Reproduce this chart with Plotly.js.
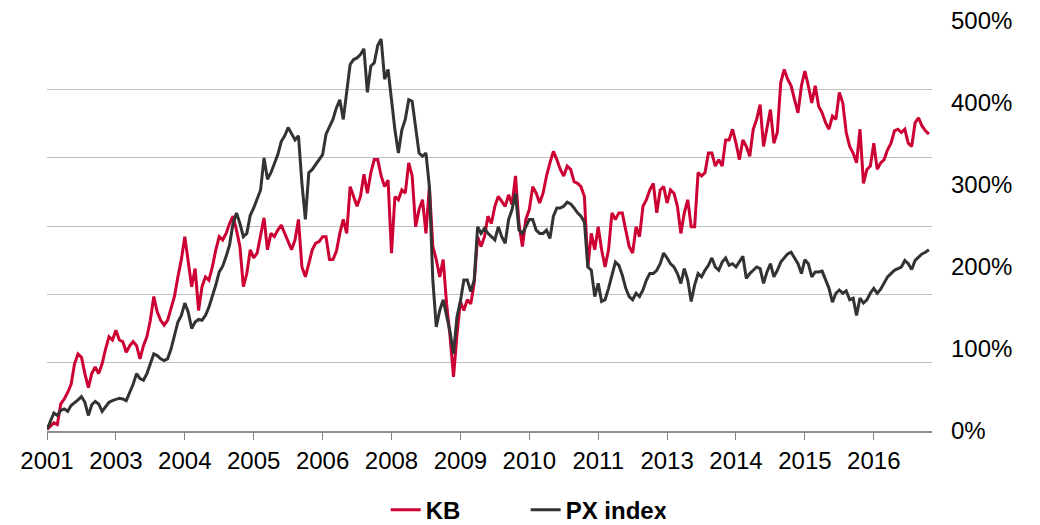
<!DOCTYPE html>
<html><head><meta charset="utf-8">
<script src="https://cdn.plot.ly/plotly-3.0.1.min.js"></script>
<style>html,body{margin:0;padding:0;background:#fff}#chart{width:1040px;height:525px}</style>
</head><body><div id="chart"></div>
<script>
// x tick labels (one label every 20 samples)
const tickLabels = ['2001','2003','2004','2005','2006','2008','2009','2010','2011','2013','2014','2015','2016'];
const samplesPerTick = 20;
const yLabelVals = [0, 100, 200, 300, 400, 500];

// KB cumulative performance, %
const kb = [2,6,10,8,33,39,47,57,82,94,90,70,53,70,78,70,82,100,115,111,123,111,109,96,104,109,104,88,104,115,135,164,145,135,129,135,151,164,188,209,237,209,176,198,147,176,188,184,200,221,237,233,241,253,
262,245,225,176,192,221,211,217,237,260,221,241,237,245,251,241,233,221,233,258,200,188,204,221,229,231,237,237,209,209,219,241,258,241,298,286,274,286,313,290,315,331,331,311,298,306,217,286,282,294,290,327,
311,249,270,282,241,298,225,209,188,209,155,115,66,117,158,147,160,155,180,237,225,237,262,253,274,286,280,274,288,276,311,253,225,258,270,298,290,278,290,311,327,341,331,319,311,323,319,304,302,298,286,200,
241,221,249,221,200,221,266,258,266,266,245,225,217,249,237,274,282,294,302,266,294,298,278,294,290,274,241,266,282,249,249,315,311,315,339,339,323,331,323,355,355,368,351,331,355,347,335,368,380,398,347,372,392,
351,364,425,441,429,421,404,388,421,439,421,400,421,396,388,376,368,384,380,413,400,364,347,339,327,368,302,319,323,351,319,327,331,343,351,366,368,364,368,351,347,376,382,372,366,362];

// PX index cumulative performance, %
const pxIndex = [2,13,22,19,25,27,24,31,34,38,42,35,19,32,36,33,24,30,35,37,39,40,39,37,47,57,70,64,62,70,82,94,92,88,86,88,100,117,133,141,156,145,125,133,136,135,141,151,164,178,194,201,213,227,
253,266,253,237,241,263,272,282,294,333,307,315,325,337,353,360,370,362,355,360,302,258,315,319,325,331,337,362,372,380,394,404,380,417,447,453,455,459,466,413,445,449,470,478,429,441,400,367,339,367,380,404,
402,368,339,335,339,298,184,127,147,160,139,121,94,139,158,184,184,170,184,249,241,247,241,237,233,249,237,229,258,270,290,245,241,249,258,258,245,241,241,245,235,262,272,272,274,279,277,272,266,262,255,200,
196,164,180,158,160,174,190,206,202,190,174,164,160,168,164,172,184,192,192,196,204,217,211,204,200,192,180,198,184,158,178,192,188,196,202,211,200,196,206,211,202,204,200,206,213,186,192,196,200,198,180,194,204,
188,196,206,211,216,218,211,204,192,209,204,188,194,194,195,185,174,157,168,172,168,171,160,162,141,162,156,160,168,174,168,173,180,188,192,196,198,200,208,204,197,208,212,216,218,221];

const idx = kb.map((_, i) => i);
const FONT = 'Liberation Sans, Arial, Helvetica, sans-serif';

const traces = [
  {x: idx, y: kb, name: 'KB', type: 'scatter', mode: 'lines',
   line: {color: '#CC0033', width: 3}, yaxis: 'y'},
  {x: idx, y: pxIndex, name: 'PX index', type: 'scatter', mode: 'lines',
   line: {color: '#333333', width: 3}, yaxis: 'y2'}
];

const layout = {
  width: 1040, height: 525,
  margin: {l: 47, r: 108, t: 21, b: 94, autoexpand: false},
  paper_bgcolor: '#fff', plot_bgcolor: '#fff',
  font: {family: FONT, size: 24, color: '#000'},
  showlegend: true,
  legend: {orientation: 'h', x: 0.3827, xanchor: 'left', y: -0.193, yanchor: 'middle',
           font: {family: FONT, size: 24, color: '#000', weight: 'bold'},
           entrywidth: 95, entrywidthmode: 'pixels'},
  xaxis: {range: [0, (kb.length - 1) + 0.9], tickmode: 'array',
          tickvals: tickLabels.map((_, k) => k * samplesPerTick), ticktext: tickLabels,
          ticks: 'outside', ticklen: 7, tickcolor: '#7f7f7f', tickwidth: 1,
          showline: true, linecolor: '#8c8c8c', linewidth: 2,
          showgrid: false, zeroline: false, fixedrange: true, automargin: false,
          tickfont: {family: FONT, size: 24, color: '#000'}},
  yaxis: {range: [0, 500], tickmode: 'linear', tick0: 0, dtick: 500 / 6,
          showticklabels: false, ticks: '', showgrid: true, gridcolor: '#bfbfbf', gridwidth: 1,
          zeroline: false, showline: false, fixedrange: true, automargin: false},
  yaxis2: {range: [0, 500], overlaying: 'y', side: 'right', tickmode: 'array',
           tickvals: yLabelVals, ticktext: yLabelVals.map(v => v + '%'),
           ticks: '', showgrid: false, zeroline: false, showline: false,
           ticklabelstandoff: 18, fixedrange: true, automargin: false,
           tickfont: {family: FONT, size: 24, color: '#000'}}
};

Plotly.newPlot('chart', traces, layout, {displayModeBar: false, staticPlot: true});
</script></body></html>
